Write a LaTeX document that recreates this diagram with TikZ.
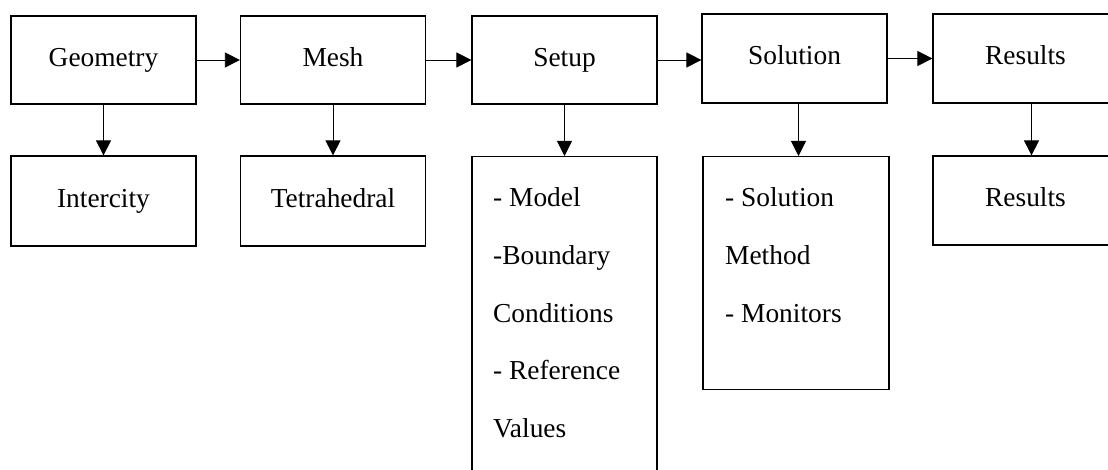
\documentclass[tikz,border=0pt]{standalone}
\usepackage{fontspec}
\setmainfont{Liberation Serif}
\usepackage{tikz}
\usetikzlibrary{arrows.meta,positioning}

\tikzset{
  box/.style={draw, line width=1.2pt, minimum width=185pt, minimum height=88pt, inner sep=0pt,
    text height=18.5pt, text depth=6pt},
  flow/.style={-{Triangle[length=15pt,width=15pt]}, line width=0.8pt},
  item/.style={anchor=base west, inner sep=0pt}
}

\begin{document}
\begin{tikzpicture}[x=1pt,y=1pt,font=\fontsize{27.4}{32}\selectfont]
        \clip (0,0) rectangle (1108,470);

        % Pasos del proceso
        \node[box] (geo) at (103.5,410) {Geometry};
        \node[box] (mesh) at (333,410) {Mesh};
        \node[box] (setup) at (564.5,410) {Setup};
        \node[box, minimum height=89pt] (sol) at (794.5,411.5) {Solution};
        \node[box, minimum height=89pt] (res) at (1025.5,411.5) {Results};

        % Detalles de cada paso
        \node[box, minimum height=90pt] (inter) at (103.5,269) {Intercity};
        \node[box, minimum height=90pt] (tetra) at (333,269) {Tetrahedral};
        \node[box, anchor=north, minimum height=340pt] (setuplist) at (564.5,314) {};
        \node[box, anchor=north, minimum width=186pt, minimum height=233pt] (sollist) at (796,314) {};
        \node[box, minimum height=89pt] (resout) at (1025.5,269.5) {Results};

        % Textos de las listas
        \foreach \t [count=\i] in {- Model,-Boundary,Conditions,- Reference,Values} {
            \node[item] (setupitem\i) at (493,320.7-57.6*\i) {\t};
        }
        \foreach \t [count=\i] in {- Solution,Method,- Monitors} {
            \node[item] (solitem\i) at (725,320.7-57.6*\i) {\t};
        }

        % Flechas
        \draw[flow] (geo.east) -- (geo.east -| mesh.west);
        \draw[flow] (mesh.east) -- (mesh.east -| setup.west);
        \draw[flow] (setup.east) -- (setup.east -| sol.west);
        \draw[flow] (sol.east) -- (sol.east -| res.west);

        \draw[flow] (geo.south) -- (inter.north);
        \draw[flow] (mesh.south) -- (tetra.north);
        \draw[flow] (setup.south) -- (setuplist.north);
        \draw[flow] ([xshift=4pt]sol.south) -- ([xshift=4pt]sol.south |- sollist.north);
        \draw[flow] ([xshift=6pt]res.south) -- ([xshift=6pt]res.south |- resout.north);
    \end{tikzpicture}
\end{document}
